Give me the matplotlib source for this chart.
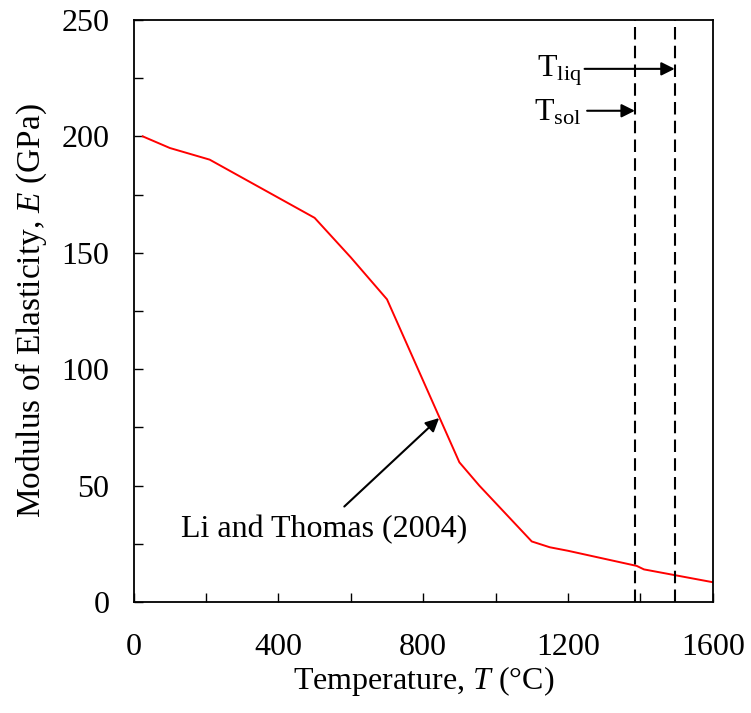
import numpy as np
import matplotlib
matplotlib.use('Agg')
from matplotlib import pyplot as plt
from matplotlib.ticker import MultipleLocator

plt.rcParams['font.family'] = ['Liberation Serif', 'DejaVu Serif']
plt.rcParams['mathtext.fontset'] = 'custom'
plt.rcParams['mathtext.rm'] = 'Liberation Serif'
plt.rcParams['mathtext.it'] = 'Liberation Serif:italic'

# Li and Thomas (2004) elastic modulus vs temperature
temp = [25, 100, 210, 500, 600, 700, 900, 955, 1100, 1150, 1200, 1390, 1410, 1600]
modulus = [200, 195, 190, 165, 148, 130, 60, 50, 26, 23.5, 22, 15.5, 14, 8.5]

t_sol = 1385
t_liq = 1495

fs = 23

fig = plt.figure(figsize=(7.51, 7.13), dpi=100)
ax = fig.add_axes([0.178, 0.1557, 0.771, 0.8163])

ax.plot(temp, modulus, color='red', lw=1.4)
ax.axvline(t_sol, color='black', lw=1.5, dashes=(6, 3))
ax.axvline(t_liq, color='black', lw=1.5, dashes=(6, 3))

ax.set_xlim(0, 1600)
ax.set_ylim(0, 250)
ax.xaxis.set_major_locator(MultipleLocator(400))
ax.xaxis.set_minor_locator(MultipleLocator(200))
ax.yaxis.set_major_locator(MultipleLocator(50))
ax.yaxis.set_minor_locator(MultipleLocator(25))
ax.tick_params(which='both', direction='in', length=6.5, width=1, labelsize=fs)
ax.tick_params(axis='x', pad=22)
ax.tick_params(axis='y', pad=17.5)
for s in ax.spines.values():
    s.set_linewidth(1.3)

ax.set_xlabel(r'Temperature, $T$ (°C)', fontsize=fs, labelpad=1.5)
ax.set_ylabel(r'Modulus of Elasticity, $E$ (GPa)', fontsize=24, labelpad=9)

arrow = dict(arrowstyle='-|>', color='black', lw=1.5, mutation_scale=20, shrinkA=0, shrinkB=0)

ax.annotate('', xy=(844, 79), xytext=(582, 41), arrowprops=arrow)
ax.text(525, 31, 'Li and Thomas (2004)', fontsize=fs, ha='center', va='center')

ax.annotate('', xy=(t_liq, 229), xytext=(1246, 229), arrowprops=arrow)
ax.text(1238, 228, r'T$_{\rm liq}$', fontsize=fs, ha='right', va='center')
ax.annotate('', xy=(t_sol, 211), xytext=(1253, 211), arrowprops=arrow)
ax.text(1238, 210, r'T$_{\rm sol}$', fontsize=fs, ha='right', va='center')

fig.savefig('out.png', dpi=100)
